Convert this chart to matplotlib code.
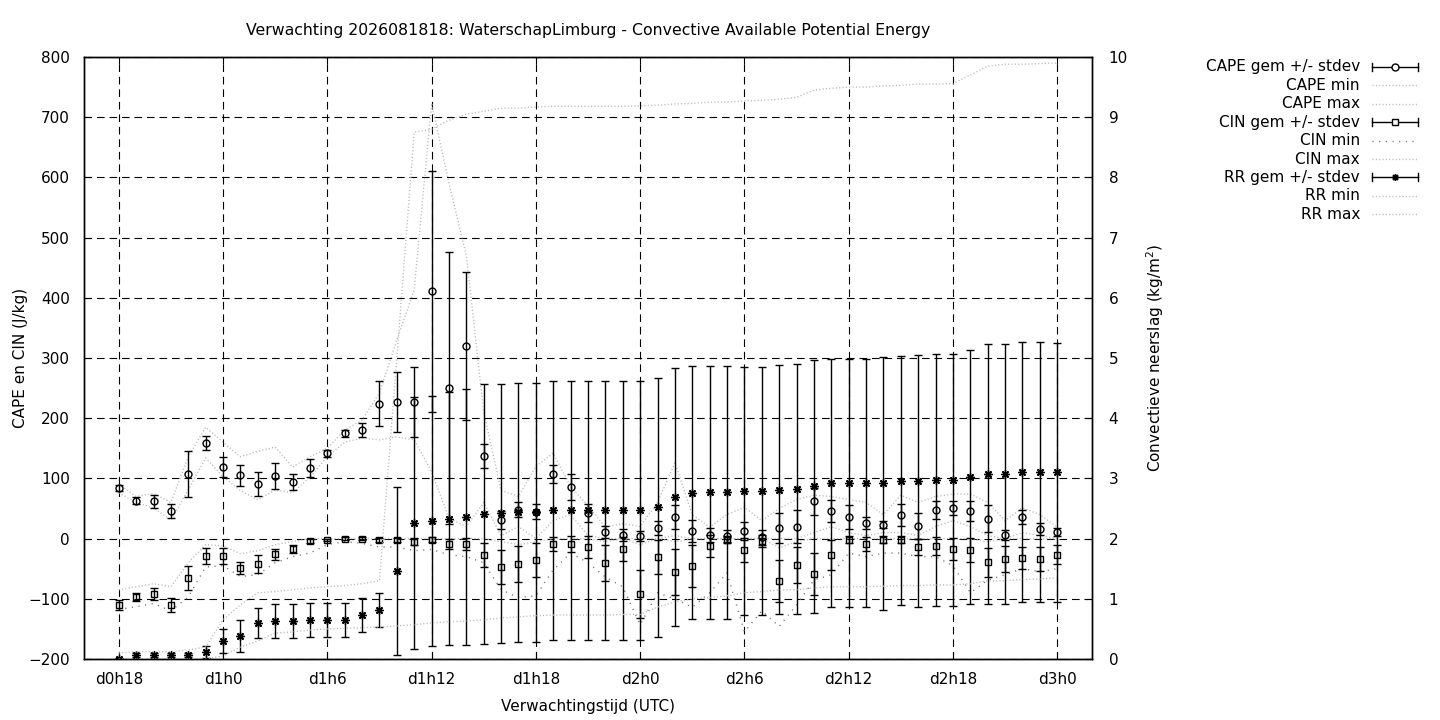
import matplotlib
matplotlib.use('Agg')
import matplotlib.pyplot as plt
from matplotlib.lines import Line2D

# uren vanaf d0h0
hours = list(range(18, 73))
tick_hours = [18, 24, 30, 36, 42, 48, 54, 60, 66, 72]
tick_labels = ['d0h18', 'd1h0', 'd1h6', 'd1h12', 'd1h18', 'd2h0', 'd2h6', 'd2h12', 'd2h18', 'd3h0']

cape_gem = [84, 63, 62, 46, 107, 159, 119, 105, 91, 104, 94, 117, 142, 175, 180, 224, 227, 227,
            411, 250, 320, 137, 31, 48, 45, 107, 86, 43, 11, 6, 4, 18, 36, 13, 6, 4,
            13, 2, 18, 20, 62, 46, 36, 26, 23, 39, 21, 47, 51, 46, 33, 6, 36, 16, 11]
cape_sd = [5, 6, 11, 11, 38, 12, 16, 18, 20, 22, 14, 15, 6, 6, 12, 37, 50, 58,
           200, 226, 123, 20, 15, 12, 12, 15, 22, 15, 10, 10, 8, 12, 20, 18, 12, 10,
           15, 12, 25, 27, 22, 18, 20, 10, 6, 18, 22, 15, 12, 16, 22, 8, 12, 10, 6]
cape_min = [76, 60, 51, 31, 81, 134, 103, 80, 64, 81, 76, 102, 136, 160, 167, 164, 169, 164,
            111, 34, 20, 60, 5, 20, 0, 30, 40, 5, 0, 0, 0, 0, 5, 0, 0, 0,
            0, 0, 0, 0, 10, 20, 10, 5, 10, 10, 5, 20, 30, 20, 5, 0, 10, 5, 0]
cape_max = [90, 70, 75, 60, 136, 185, 160, 136, 145, 152, 119, 136, 150, 180, 197, 242, 330, 413,
            723, 590, 470, 210, 80, 70, 120, 142, 86, 55, 19, 25, 20, 60, 126, 40, 19, 40,
            52, 30, 50, 65, 72, 70, 65, 60, 40, 72, 60, 70, 74, 74, 60, 30, 51, 40, 19]

cin_gem = [-110, -97, -92, -110, -65, -29, -29, -49, -42, -26, -17, -4, -2, 0, 0, -2, -2, -5,
           -2, -9, -9, -27, -47, -42, -36, -9, -9, -14, -41, -17, -92, -31, -55, -45, -12, -2,
           -19, -4, -70, -44, -59, -27, -2, -9, -2, -2, -14, -12, -17, -19, -39, -34, -32, -34, -27]
cin_sd = [8, 7, 10, 12, 20, 13, 14, 10, 15, 9, 7, 3, 2, 2, 2, 3, 3, 6,
          4, 8, 10, 20, 28, 30, 28, 12, 14, 18, 30, 20, 40, 28, 38, 35, 18, 6,
          20, 10, 35, 30, 35, 25, 6, 12, 6, 6, 14, 15, 18, 20, 24, 22, 18, 20, 16]
cin_min = [-118, -113, -108, -120, -97, -47, -45, -63, -60, -40, -30, -24, -10, -5, -8, -14, -14, -20,
           -18, -27, -30, -40, -85, -98, -95, -52, -24, -40, -64, -80, -143, -90, -100, -114, -90, -57,
           -155, -120, -146, -110, -69, -60, -24, -30, -24, -24, -30, -30, -45, -90, -69, -60, -50, -55, -50]
cin_max = [-85, -80, -75, -80, -40, -10, -12, -25, -20, -10, -5, 0, 0, 0, 0, 0, 0, 0,
           0, 0, 0, 0, -5, -10, -5, 0, 0, 0, -5, 0, -10, 0, -5, 0, 0, 0,
           0, 0, -15, -5, 0, 0, 0, 0, 0, 0, 0, 0, 0, 0, -5, 0, 0, 0, 0]

rr_gem = [0.0, 0.07, 0.07, 0.07, 0.07, 0.12, 0.3, 0.38, 0.6, 0.63, 0.63, 0.65, 0.65, 0.65, 0.73, 0.81, 1.46, 2.26,
          2.29, 2.33, 2.36, 2.41, 2.42, 2.44, 2.44, 2.47, 2.47, 2.47, 2.47, 2.47, 2.47, 2.52, 2.69, 2.76, 2.77, 2.77,
          2.79, 2.79, 2.81, 2.82, 2.87, 2.92, 2.92, 2.92, 2.92, 2.96, 2.96, 2.97, 2.97, 3.02, 3.07, 3.07, 3.1, 3.1, 3.1]
rr_sd = [0.02, 0.03, 0.03, 0.03, 0.03, 0.1, 0.2, 0.27, 0.25, 0.28, 0.28, 0.28, 0.28, 0.28, 0.28, 0.28, 1.4, 2.1,
         2.08, 2.1, 2.12, 2.16, 2.15, 2.15, 2.15, 2.15, 2.15, 2.15, 2.15, 2.15, 2.15, 2.15, 2.15, 2.1, 2.1, 2.1,
         2.06, 2.06, 2.07, 2.08, 2.1, 2.06, 2.06, 2.06, 2.1, 2.07, 2.09, 2.09, 2.09, 2.11, 2.16, 2.16, 2.16, 2.16, 2.15]
rr_min = [0, 0, 0, 0, 0, 0, 0.05, 0.2, 0.3, 0.43, 0.45, 0.48, 0.5, 0.51, 0.52, 0.53, 0.55, 0.57,
          0.6, 0.62, 0.63, 0.65, 0.68, 0.7, 0.72, 0.73, 0.73, 0.73, 0.73, 0.74, 0.74, 0.86, 0.95, 1.0, 1.02, 1.05,
          1.1, 1.12, 1.15, 1.15, 1.18, 1.2, 1.2, 1.2, 1.21, 1.22, 1.22, 1.23, 1.23, 1.25, 1.3, 1.3, 1.32, 1.33, 1.35]
rr_max = [0.1, 0.12, 0.12, 0.12, 0.15, 0.2, 0.65, 0.9, 1.1, 1.12, 1.15, 1.18, 1.2, 1.22, 1.25, 1.3, 5.0, 8.75,
          8.8, 8.95, 9.05, 9.1, 9.15, 9.15, 9.17, 9.18, 9.18, 9.18, 9.18, 9.18, 9.19, 9.2, 9.22, 9.23, 9.25, 9.25,
          9.27, 9.28, 9.3, 9.33, 9.45, 9.48, 9.5, 9.5, 9.52, 9.53, 9.55, 9.55, 9.56, 9.7, 9.85, 9.88, 9.88, 9.89, 9.9]

plt.rcParams['font.family'] = ['DejaVu Sans']
plt.rcParams['font.size'] = 11
plt.rcParams['lines.scale_dashes'] = False

LICHT = '#b8b8b8'
DONKER = '#707070'
dicht = (0, (0.8, 1.6))
ijl = (0, (0.8, 4.0))

fig = plt.figure(figsize=(14.4, 7.2), dpi=100)
ax = fig.add_axes([84 / 1440, 1 - 659 / 720, (1092 - 84) / 1440, (659 - 57) / 720])
ax2 = ax.twinx()

# CAPE
ax.errorbar(hours, cape_gem, yerr=cape_sd, fmt='o', color='k', mfc='none', ms=5, mew=1,
            capsize=3, elinewidth=1, capthick=1, zorder=3)
ax.plot(hours, cape_min, color=LICHT, ls=dicht, lw=1, zorder=2)
ax.plot(hours, cape_max, color=LICHT, ls=dicht, lw=1, zorder=2)
# CIN
ax.errorbar(hours, cin_gem, yerr=cin_sd, fmt='s', color='k', mfc='none', ms=5, mew=1,
            capsize=3, elinewidth=1, capthick=1, zorder=3)
ax.plot(hours, cin_min, color=DONKER, ls=ijl, lw=1, zorder=2)
ax.plot(hours, cin_max, color=LICHT, ls=dicht, lw=1, zorder=2)
# neerslag
ax2.errorbar(hours, rr_gem, yerr=rr_sd, fmt='none', ecolor='k', capsize=3, elinewidth=1, capthick=1)
ax2.plot(hours, rr_gem, ls='none', marker=(8, 2, 0), color='k', ms=6, mew=1)
ax2.plot(hours, rr_min, color=LICHT, ls=dicht, lw=1)
ax2.plot(hours, rr_max, color=LICHT, ls=dicht, lw=1)

ax.set_xlim(16, 74)
ax.set_ylim(-200, 800)
ax2.set_ylim(0, 10)
ax.set_xticks(tick_hours)
ax.set_xticklabels(tick_labels)
ax.set_yticks(range(-200, 801, 100))
ax2.set_yticks(range(0, 11))

ax.grid(True, color='k', ls=(0, (5.5, 3.5)), lw=0.8)
ax.tick_params(direction='in', length=5, width=0.8, top=True, pad=9)
ax.tick_params(axis='y', pad=10)
ax2.tick_params(direction='in', length=5, width=0.8, pad=12)
for a in (ax, ax2):
    for s in a.spines.values():
        s.set_linewidth(1)

ax.set_ylabel('CAPE en CIN (J/kg)', labelpad=0)
ax2.set_ylabel('Convectieve neerslag (kg/m$^2$)', labelpad=12)
ax.set_xlabel('Verwachtingstijd (UTC)', labelpad=9)
ax.set_title('Verwachting 2026081818: WaterschapLimburg - Convective Available Potential Energy',
             pad=16, fontsize=11.3)

# legenda zoals gnuplot: tekst rechts uitgelijnd, voorbeeld erachter
labels = ['CAPE gem +/- stdev', 'CAPE min', 'CAPE max',
          'CIN gem +/- stdev', 'CIN min', 'CIN max',
          'RR gem +/- stdev', 'RR min', 'RR max']
soort = ['o', 'lijn', 'lijn', 's', 'ijl', 'lijn', (8, 2, 0), 'lijn', 'lijn']
W, H = 1440, 720
x0, x1 = 1372 / W, 1418 / W
for i, (lab, s) in enumerate(zip(labels, soort)):
    y = 1 - (67 + i * 18.4) / H
    fig.text(1360 / W, y, lab, ha='right', va='center', fontsize=11)
    if s == 'lijn':
        fig.add_artist(Line2D([x0, x1], [y, y], color=LICHT, ls=dicht, lw=1))
    elif s == 'ijl':
        fig.add_artist(Line2D([x0, x1], [y, y], color=DONKER, ls=ijl, lw=1))
    else:
        fig.add_artist(Line2D([x0, x1], [y, y], color='k', lw=1))
        for xe in (x0, x1):
            fig.add_artist(Line2D([xe, xe], [y - 4 / H, y + 4 / H], color='k', lw=1))
        fig.add_artist(Line2D([(x0 + x1) / 2], [y], marker=s, color='k', mfc='white', ms=5, mew=1))

fig.savefig('out.png', dpi=100)
